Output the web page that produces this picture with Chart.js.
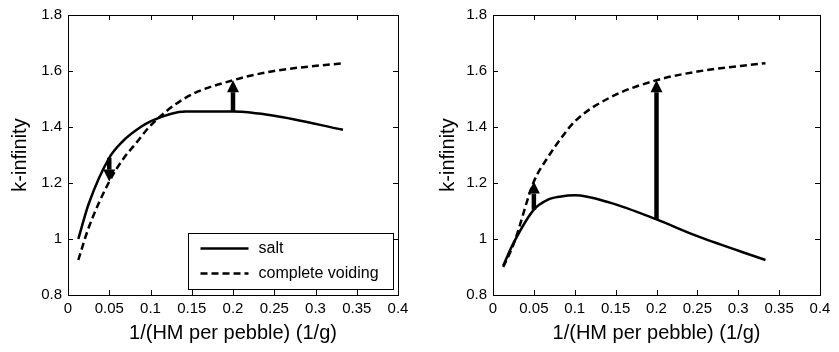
<!DOCTYPE html>
<html>
<head>
<meta charset="utf-8">
<script src="https://cdn.jsdelivr.net/npm/chart.js@4.4.1/dist/chart.umd.min.js"></script>
<style>
  html, body { margin: 0; padding: 0; background: #fff; }
  #wrap { position: relative; width: 839px; height: 352px; }
  #leftBox { position: absolute; left: 0; top: 0; }
  #rightBox { position: absolute; left: 420px; top: 0; }
</style>
</head>
<body>
<div id="wrap">
  <div id="leftBox"><canvas id="leftChart" width="420" height="352"></canvas></div>
  <div id="rightBox"><canvas id="rightChart" width="419" height="352"></canvas></div>
</div>
<script>
// x: 1/(HM per pebble) in 1/g
const invPebble = [0.0125, 0.025, 0.05, 0.0667, 0.0833, 0.1, 0.1429, 0.2, 0.25, 0.3333];

// left panel
const saltLeft  = [1.00, 1.125, 1.29, 1.35, 1.39, 1.42, 1.455, 1.455, 1.44, 1.39];
const voidLeft  = [0.925, 1.04, 1.205, 1.285, 1.345, 1.405, 1.505, 1.567, 1.60, 1.628];

// right panel
const saltRight = [0.905, 0.985, 1.105, 1.14, 1.152, 1.156, 1.13, 1.07, 1.01, 0.925];
const voidRight = [0.90, 0.98, 1.205, 1.29, 1.36, 1.42, 1.505, 1.567, 1.598, 1.628];

// arrows drawn at these x values, from salt to voiding
const arrowAt = [0.05, 0.2];

const xTicks = [0, 0.05, 0.1, 0.15, 0.2, 0.25, 0.3, 0.35, 0.4];
const yTicks = [0.8, 1, 1.2, 1.4, 1.6, 1.8];

const FONT = '"Liberation Sans", Arial, Helvetica, sans-serif';

function points(xs, ys) {
    return xs.map((x, i) => ({ x: x, y: ys[i] }));
}

// matlab style box with inward ticks on all four sides
const framePlugin = {
    id: 'frame',
    afterDraw(chart) {
        const { ctx, chartArea: a, scales: { x, y } } = chart;
        const len = 5;
        ctx.save();
        ctx.strokeStyle = '#000';
        ctx.lineWidth = 1;
        ctx.strokeRect(Math.round(a.left) + 0.5, Math.round(a.top) + 0.5,
            Math.round(a.right - a.left), Math.round(a.bottom - a.top));
        ctx.beginPath();
        xTicks.forEach(v => {
            const px = Math.round(x.getPixelForValue(v)) + 0.5;
            ctx.moveTo(px, a.bottom); ctx.lineTo(px, a.bottom - len);
            ctx.moveTo(px, a.top); ctx.lineTo(px, a.top + len);
        });
        yTicks.forEach(v => {
            const py = Math.round(y.getPixelForValue(v)) + 0.5;
            ctx.moveTo(a.left, py); ctx.lineTo(a.left + len, py);
            ctx.moveTo(a.right, py); ctx.lineTo(a.right - len, py);
        });
        ctx.stroke();
        ctx.restore();
    }
};

// thick arrows from the salt curve to the voiding curve
const arrowPlugin = {
    id: 'arrows',
    afterDatasetsDraw(chart) {
        const { ctx, scales: { x, y } } = chart;
        const salt = chart.data.datasets[0].data;
        const voiding = chart.data.datasets[1].data;
        ctx.save();
        ctx.fillStyle = '#000';
        ctx.strokeStyle = '#000';
        arrowAt.forEach(xv => {
            const i = salt.findIndex(p => p.x === xv);
            if (i < 0) return;
            const px = x.getPixelForValue(xv);
            const y0 = y.getPixelForValue(salt[i].y);
            const y1 = y.getPixelForValue(voiding[i].y);
            const dir = y1 < y0 ? -1 : 1;
            const head = 12, half = 6;
            ctx.lineWidth = 4.5;
            ctx.beginPath();
            ctx.moveTo(px, y0);
            ctx.lineTo(px, y1 - dir * head);
            ctx.stroke();
            ctx.beginPath();
            ctx.moveTo(px, y1);
            ctx.lineTo(px - half, y1 - dir * head);
            ctx.lineTo(px + half, y1 - dir * head);
            ctx.closePath();
            ctx.fill();
        });
        ctx.restore();
    }
};

// boxed legend in the lower right corner of the axes
const boxLegendPlugin = {
    id: 'boxLegend',
    afterDraw(chart, args, opts) {
        if (!opts.show) return;
        const { ctx, chartArea: a } = chart;
        const w = 205, h = 56;
        const left = Math.round(a.right - 5 - w) + 0.5;
        const top = Math.round(a.bottom - 6 - h) + 0.5;
        ctx.save();
        ctx.fillStyle = '#fff';
        ctx.fillRect(left, top, w, h);
        ctx.strokeStyle = '#000';
        ctx.lineWidth = 1;
        ctx.strokeRect(left, top, w, h);
        ctx.font = '16px ' + FONT;
        ctx.textBaseline = 'middle';
        chart.data.datasets.forEach((ds, i) => {
            const ly = top + 15 + i * 25;
            ctx.beginPath();
            ctx.setLineDash(ds.borderDash || []);
            ctx.lineWidth = 2.5;
            ctx.moveTo(left + 12, ly);
            ctx.lineTo(left + 60, ly);
            ctx.stroke();
            ctx.setLineDash([]);
            ctx.fillStyle = '#000';
            ctx.fillText(ds.label, left + 70, ly);
        });
        ctx.restore();
    }
};

function makeChart(canvasId, salt, voiding, opts) {
    const ctx = document.getElementById(canvasId).getContext('2d');
    return new Chart(ctx, {
        type: 'scatter',
        data: {
            datasets: [{
                label: 'salt',
                data: points(invPebble, salt),
                showLine: true,
                borderColor: '#000',
                borderWidth: 2.5,
                pointRadius: 0,
                cubicInterpolationMode: 'monotone'
            }, {
                label: 'complete voiding',
                data: points(invPebble, voiding),
                showLine: true,
                borderColor: '#000',
                borderWidth: 2.5,
                borderDash: [7, 4],
                pointRadius: 0,
                cubicInterpolationMode: 'monotone'
            }]
        },
        options: {
            responsive: false,
            animation: false,
            layout: { padding: { left: 0, right: opts.padRight, top: 11, bottom: 0 } },
            plugins: {
                legend: { display: false },
                tooltip: { enabled: false },
                boxLegend: { show: opts.legend }
            },
            scales: {
                x: {
                    type: 'linear',
                    min: 0,
                    max: 0.4,
                    afterBuildTicks: s => { s.ticks = xTicks.map(v => ({ value: v })); },
                    afterFit: s => { s.height = 57; },
                    grid: { display: false, drawTicks: false },
                    border: { display: false },
                    ticks: {
                        color: '#000',
                        padding: 5,
                        maxRotation: 0,
                        autoSkip: false,
                        font: { size: 15, family: FONT },
                        callback: v => String(+v.toFixed(2))
                    },
                    title: {
                        display: true,
                        text: '1/(HM per pebble) (1/g)',
                        color: '#000',
                        font: { size: 20, family: FONT },
                        padding: { top: 0, bottom: 7 }
                    }
                },
                y: {
                    type: 'linear',
                    min: 0.8,
                    max: 1.8,
                    afterBuildTicks: s => { s.ticks = yTicks.map(v => ({ value: v })); },
                    afterFit: s => { s.width = opts.yWidth; },
                    grid: { display: false, drawTicks: false },
                    border: { display: false },
                    ticks: {
                        color: '#000',
                        padding: 6,
                        font: { size: 15, family: FONT },
                        callback: v => String(+v.toFixed(1))
                    },
                    title: {
                        display: true,
                        text: 'k-infinity',
                        color: '#000',
                        font: { size: 20, family: FONT },
                        padding: { top: opts.titlePad, bottom: 0 }
                    }
                }
            }
        },
        plugins: [framePlugin, arrowPlugin, boxLegendPlugin]
    });
}

makeChart('leftChart', saltLeft, voidLeft, { padRight: 22, yWidth: 68, titlePad: 8, legend: true });
makeChart('rightChart', saltRight, voidRight, { padRight: 19, yWidth: 73, titlePad: 16, legend: false });
</script>
</body>
</html>
